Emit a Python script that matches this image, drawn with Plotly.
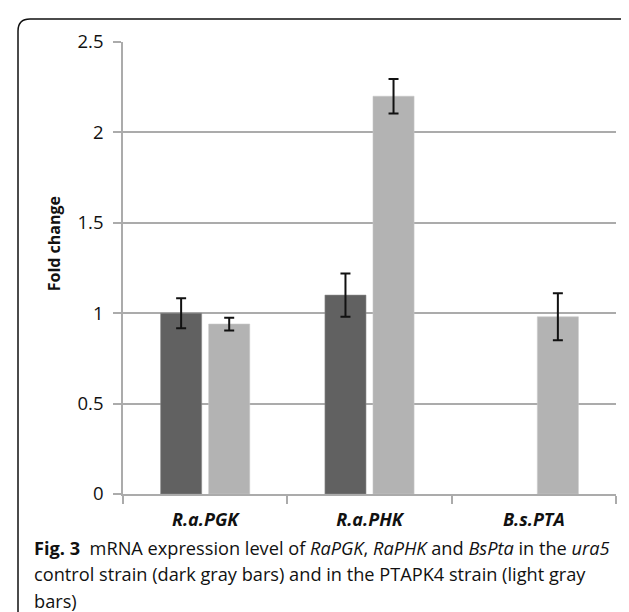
import plotly.graph_objects as go

categories = ["R.a.PGK", "R.a.PHK", "B.s.PTA"]
tick_labels = ["<b><i>R.a.PGK</i></b>", "<b><i>R.a.PHK</i></b>", "<b><i>B.s.PTA</i></b>"]
control_vals = [1.00, 1.10, None]
control_err = [0.083, 0.12, None]
ptapk4_vals = [0.94, 2.20, 0.98]
ptapk4_err = [0.035, 0.095, 0.13]
y_ticks = [0, 0.5, 1, 1.5, 2, 2.5]
y_tick_text = ["0", "0.5", "1", "1.5", "2", "2.5"]

W, H = 629, 612
L, R, T, B = 115, 608, 33.5, 486


def px(x):
    return (x - L) / (R - L)


def py(y):
    return (B - y) / (B - T)


FONT = "Open Sans"
GRID = "#ababab"

fig = go.Figure()
fig.add_trace(go.Bar(
    x=categories, y=control_vals, name="control",
    marker=dict(color="#616161", line=dict(color="#8a8a8a", width=0.6)),
    error_y=dict(type="data", array=control_err, color="#111111", thickness=2, width=5),
))
fig.add_trace(go.Bar(
    x=categories, y=ptapk4_vals, name="PTAPK4",
    marker=dict(color="#b3b3b3", line=dict(color="#c8c8c8", width=0.6)),
    error_y=dict(type="data", array=ptapk4_err, color="#111111", thickness=2, width=5),
))

fig.update_layout(
    width=W, height=H,
    margin=dict(l=L, r=W - R, t=T, b=H - B, pad=0),
    paper_bgcolor="white", plot_bgcolor="white",
    showlegend=False,
    barmode="group", bargap=0.415, bargroupgap=0.146,
    font=dict(family=FONT, color="#111111"),
)
fig.update_xaxes(
    type="category", tickvals=categories, ticktext=tick_labels,
    showline=True, linecolor=GRID, linewidth=1.5,
    ticks="outside", tickson="boundaries", ticklen=8, tickcolor=GRID, tickwidth=1.5,
    tickfont=dict(family=FONT, size=18, color="#111111"),
    showgrid=False, ticklabelstandoff=9,
)
fig.update_yaxes(
    range=[0, 2.5], tickvals=y_ticks, ticktext=y_tick_text,
    showline=True, linecolor=GRID, linewidth=1.5,
    ticks="outside", ticklen=8, tickcolor=GRID, tickwidth=1.5,
    showgrid=True, gridcolor=GRID, gridwidth=1.5, zeroline=False,
    tickfont=dict(family=FONT, size=18.5, color="#111111"),
    ticklabelstandoff=6,
)

# y-axis title (placed like the original, above the plot's vertical centre)
fig.add_annotation(
    text="<b>Fold change</b>", xref="paper", yref="paper", x=px(46), y=py(236),
    xanchor="center", yanchor="middle", textangle=-90, showarrow=False,
    font=dict(family=FONT, size=16, color="#111111"),
)

# outer rounded frame
x0, x1, y0, y1, r = 10, 628, 10.5, 612, 12
path = (
    f"M {px(x1)},{py(y0 + 6)} Q {px(x1)},{py(y0)} {px(x1 - 6)},{py(y0)} "
    f"L {px(x0 + r)},{py(y0)} Q {px(x0)},{py(y0)} {px(x0)},{py(y0 + r)} "
    f"L {px(x0)},{py(y1 - 8)} Q {px(x0)},{py(y1 - 2)} {px(x0 + 5)},{py(y1)}"
)
fig.add_shape(type="path", path=path, xref="paper", yref="paper",
              line=dict(color="#111111", width=1.5))

caption = [
    "<b>Fig. 3</b>  mRNA expression level of <i>RaPGK</i>, <i>RaPHK</i> and <i>BsPta</i> in the <i>ura5</i>",
    "control strain (dark gray bars) and in the PTAPK4 strain (light gray",
    "bars)",
]
for i, line in enumerate(caption):
    fig.add_annotation(
        text=line, xref="paper", yref="paper", x=px(24), y=py(540 + 26.5 * i),
        xanchor="left", yanchor="middle", showarrow=False, align="left",
        font=dict(family=FONT, size=18.2, color="#111111"),
    )

fig.write_html("out.html")
